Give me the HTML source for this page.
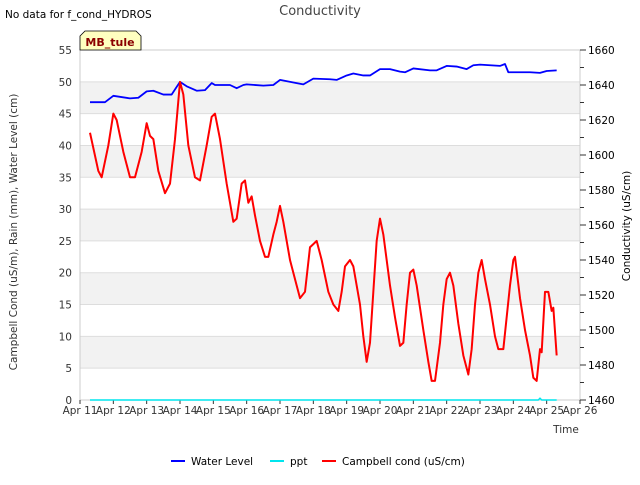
<!DOCTYPE html>
<html><head><meta charset="utf-8"><style>
body{margin:0;background:#fff;font-family:"Liberation Sans","DejaVu Sans",sans-serif;}
svg text{font-family:"DejaVu Sans","Liberation Sans",sans-serif;}
</style></head><body>
<svg id="chart" width="640" height="480" xmlns="http://www.w3.org/2000/svg">
<text x="5" y="18" font-size="10.5" fill="#000">No data for f_cond_HYDROS</text>
<text x="320" y="15" font-size="13" fill="#444" text-anchor="middle">Conductivity</text>
<g id="bands"></g>
<g id="grid"></g>
<rect x="80" y="50" width="500" height="350" fill="none" stroke="#ccc"/>
<g id="axes"></g>
<g id="series"></g>
<g>
<path d="M80,50 L80,36 L85,31 L136,31 L141,36 L141,50 Z" fill="#ffffc0" stroke="#000" stroke-width="0.8"/>
<text x="110" y="46" font-size="11" font-weight="bold" fill="#8b0000" text-anchor="middle">MB_tule</text>
</g>
<text transform="translate(17,232) rotate(-90)" font-size="10.5" text-anchor="middle" fill="#333">Campbell Cond (uS/m), Rain (mm), Water Level (cm)</text>
<text transform="translate(630,226) rotate(-90)" font-size="10.5" text-anchor="middle" fill="#000">Conductivity (uS/cm)</text>
<text x="566" y="433" font-size="10.5" text-anchor="middle" fill="#333">Time</text>
<g>
<g><line x1="171" y1="461" x2="185" y2="461" stroke="#0000ff" stroke-width="2"/><text x="191" y="465" font-size="10.5">Water Level</text></g>
<g><line x1="270" y1="461" x2="284" y2="461" stroke="#00e5ee" stroke-width="2"/><text x="290" y="465" font-size="10.5">ppt</text></g>
<g><line x1="322" y1="461" x2="336" y2="461" stroke="#ff0000" stroke-width="2"/><text x="342" y="465" font-size="10.5">Campbell cond (uS/cm)</text></g>
</g>
</svg>
<script>
const xTickLabels=["Apr 11","Apr 12","Apr 13","Apr 14","Apr 15","Apr 16","Apr 17","Apr 18","Apr 19","Apr 20","Apr 21","Apr 22","Apr 23","Apr 24","Apr 25","Apr 26"];
const leftTicks=[0,5,10,15,20,25,30,35,40,45,50,55];
const rightTicks=[1460,1480,1500,1520,1540,1560,1580,1600,1620,1640,1660];
const condDays=[11.3,11.55,11.65,11.85,12.0,12.1,12.3,12.5,12.65,12.85,13.0,13.1,13.2,13.35,13.55,13.7,13.85,14.0,14.1,14.25,14.45,14.6,14.8,14.95,15.05,15.2,15.4,15.6,15.7,15.85,15.95,16.05,16.15,16.25,16.4,16.55,16.65,16.8,16.9,17.0,17.1,17.3,17.5,17.6,17.75,17.9,18.0,18.1,18.25,18.45,18.6,18.75,18.85,18.95,19.1,19.2,19.4,19.5,19.6,19.7,19.8,19.9,20.0,20.1,20.3,20.45,20.6,20.7,20.8,20.9,21.0,21.1,21.3,21.45,21.55,21.65,21.8,21.9,22.0,22.1,22.2,22.35,22.5,22.6,22.65,22.75,22.85,22.95,23.05,23.15,23.3,23.45,23.55,23.7,23.8,23.9,24.0,24.05,24.2,24.35,24.5,24.6,24.7,24.8,24.85,24.95,25.05,25.15,25.2,25.3];
const condValues=[42,36,35,40,45,44,39,35,35,39,43.5,41.5,41,36,32.5,34,41,50,48,40,35,34.5,40,44.5,45,41,34,28,28.5,34,34.5,31,32,29,25,22.5,22.5,26,28,30.5,28,22,18,16,17,24,24.5,25,22,17,15,14,17,21,22,21,15,10,6,9,17,25,28.5,26,18,13,8.5,9,15,20,20.5,18,11,6,3,3,9,15,19,20,18,12,7,5,4,8,15,20,22,19,15,10,8,8,13,18,22,22.5,16,11,7,3.5,3,8,7.5,17,17,14,14.5,7];
const levelDays=[11.3,11.75,12.0,12.5,12.75,13.0,13.2,13.5,13.75,14.0,14.2,14.5,14.75,14.95,15.05,15.5,15.7,15.9,16.0,16.5,16.8,17.0,17.5,17.7,18.0,18.5,18.7,19.0,19.2,19.5,19.7,20.0,20.3,20.6,20.75,21.0,21.5,21.7,22.0,22.3,22.6,22.8,23.0,23.3,23.6,23.75,23.85,24.5,24.8,25.0,25.3];
const levelValues=[46.8,46.8,47.8,47.4,47.5,48.5,48.6,48,48,50,49.3,48.6,48.7,49.8,49.5,49.5,49,49.5,49.6,49.4,49.5,50.3,49.8,49.6,50.5,50.4,50.3,51,51.3,51,51,52,52,51.6,51.5,52.1,51.8,51.8,52.5,52.4,52,52.6,52.7,52.6,52.5,52.8,51.5,51.5,51.4,51.7,51.8];
const pptDays=[11.3,24.75,24.8,24.85,25.3];
const pptValues=[0,0,0.3,0,0];
const NS="http://www.w3.org/2000/svg";
const X=d=>80+(d-11)*500/15;
const Y=v=>400-v*350/55;
const YR=v=>400-(v-1460)*350/200;
function mk(tag,attrs,parent){const e=document.createElementNS(NS,tag);for(const k in attrs)e.setAttribute(k,attrs[k]);parent.appendChild(e);return e;}
const bands=document.getElementById('bands'),grid=document.getElementById('grid'),axes=document.getElementById('axes'),series=document.getElementById('series');
for(let v=5;v<55;v+=10){const r=mk('rect',{x:80,y:Y(v+5),width:500,height:Y(v)-Y(v+5),fill:'#f2f2f2'},bands);

}
leftTicks.forEach(v=>{const l=mk('line',{x1:80,x2:580,y1:Y(v),y2:Y(v),stroke:'#ddd'},grid);


const t=mk('text',{x:72,y:Y(v)+4,'font-size':10.5,'text-anchor':'end',fill:'#333'},axes);t.textContent=v;

});
rightTicks.forEach((v,i)=>{mk('line',{x1:580,x2:586,y1:YR(v),y2:YR(v),stroke:'#333'},axes);
if(i<rightTicks.length-1)mk('line',{x1:580,x2:584,y1:YR(v+10),y2:YR(v+10),stroke:'#333'},axes);
const t=mk('text',{x:588,y:YR(v)+4,'font-size':10.5,fill:'#000'},axes);t.textContent=v;

});
xTickLabels.forEach((s,i)=>{mk('line',{x1:X(11+i),x2:X(11+i),y1:400,y2:404,stroke:'#333'},axes);
const t=mk('text',{x:X(11+i),y:414,'font-size':10.5,'text-anchor':'middle',fill:'#333'},axes);t.textContent=s;

});
function line(ds,vs,color,name,w){const p=mk('polyline',{points:ds.map((d,i)=>X(d)+','+Y(vs[i])).join(' '),fill:'none',stroke:color,'stroke-width':w,'stroke-linejoin':'round'},series);

}
line(pptDays,pptValues,'#00e5ee','ppt-line',1.4);
line(levelDays,levelValues,'#0000ff','water-level-line',1.8);
line(condDays,condValues,'#ff0000','campbell-cond-line',2);
</script>
</body></html>
